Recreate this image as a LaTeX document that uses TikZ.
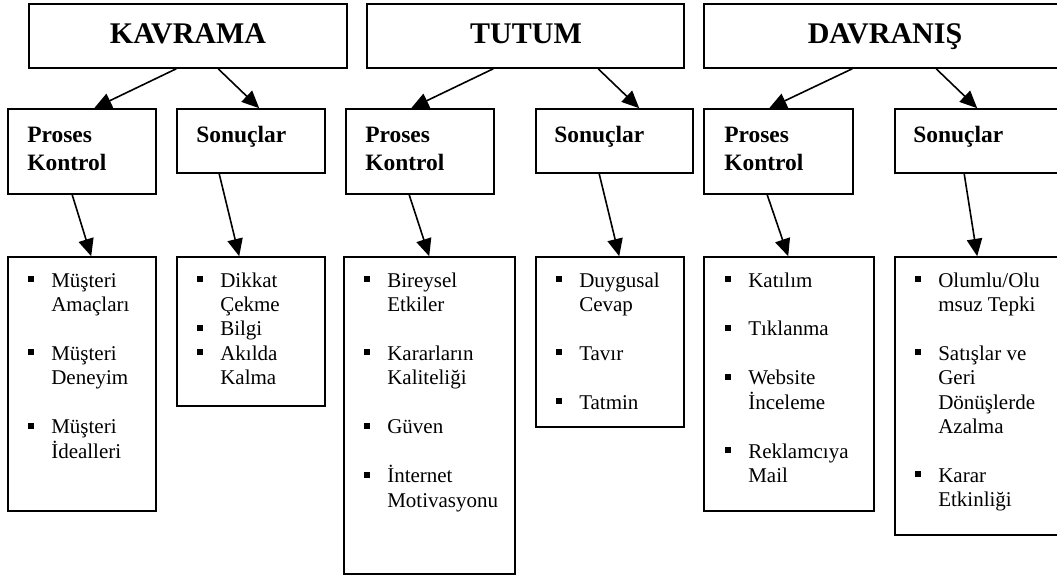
\documentclass[tikz,border=0pt]{standalone}
\usepackage{fontspec}
\setmainfont{Liberation Serif}
\usetikzlibrary{arrows.meta,calc,fit}
% square bullet followed by the indent of the item text
\newcommand\sqb{\makebox[17.25pt][l]{\rule[3.75pt]{4.5pt}{4.5pt}}}
\newcommand\itm[1]{\sqb & #1}
\newcommand\cnt[1]{& #1}
\newcommand\itemgap{18.4pt}
\begin{document}
\begin{tikzpicture}[x=0.75pt,y=-0.75pt,
  box/.style={draw,line width=1.2pt,inner sep=0pt},
  titletext/.style={inner sep=0pt,anchor=base,font=\bfseries\fontsize{22.5}{26}\selectfont},
  headtext/.style={inner sep=0pt,anchor=base west,font=\bfseries\fontsize{17.6}{21}\selectfont},
  listtext/.style={inner sep=0pt,anchor=base west,font=\fontsize{15.75}{18.3}\selectfont},
  link/.style={line width=1.2pt,-{Triangle[length=13pt,width=11.5pt]}}]
\useasboundingbox (0,0) rectangle (1057,576);
\fill[white] (0,0) rectangle (1057,576);
\clip (0,0) rectangle (1057,576);

% top level
\node[box,fit={(29,4) (347,68)}] (kav) {};
\node[box,fit={(367,4) (684,68)}] (tut) {};
\node[box,fit={(704,4) (1066,68)}] (dav) {};
\node[titletext] (kavT) at (188,43) {KAVRAMA};
\node[titletext] (tutT) at (526,43) {TUTUM};
\node[titletext] (davT) at (885,43) {DAVRANIŞ};

% second level
\node[box,fit={(8,109) (156,194)}] (pk) {};
\node[box,fit={(177,109) (325,173)}] (sk) {};
\node[box,fit={(346,109) (494,194)}] (pt) {};
\node[box,fit={(536,109) (693,173)}] (st) {};
\node[box,fit={(704,109) (853,194)}] (pd) {};
\node[box,fit={(895,109) (1070,173)}] (sd) {};
\node[headtext] (pkT) at (27,142) {\begin{tabular}[t]{@{}l@{}}Proses\\Kontrol\end{tabular}};
\node[headtext] (skT) at (196,142) {Sonuçlar};
\node[headtext] (ptT) at (365,142) {\begin{tabular}[t]{@{}l@{}}Proses\\Kontrol\end{tabular}};
\node[headtext] (stT) at (554,142) {Sonuçlar};
\node[headtext] (pdT) at (724,142) {\begin{tabular}[t]{@{}l@{}}Proses\\Kontrol\end{tabular}};
\node[headtext] (sdT) at (913,142) {Sonuçlar};

% third level
\node[box,fit={(8,257) (156,511)}] (k1) {};
\node[box,fit={(177,257) (325,406)}] (k2) {};
\node[box,fit={(344,257) (515,574)}] (t1) {};
\node[box,fit={(536,257) (684,427)}] (t2) {};
\node[box,fit={(704,257) (874,511)}] (d1) {};
\node[box,fit={(895,257) (1070,535)}] (d2) {};

\node[listtext] (k1T) at (28,287) {\begin{tabular}[t]{@{}l@{}l@{}}
\itm{Müşteri}\\ \cnt{Amaçları}\\[\itemgap]
\itm{Müşteri}\\ \cnt{Deneyim}\\[\itemgap]
\itm{Müşteri}\\ \cnt{İdealleri}
\end{tabular}};
\node[listtext] (k2T) at (197,287) {\begin{tabular}[t]{@{}l@{}l@{}}
\itm{Dikkat}\\ \cnt{Çekme}\\
\itm{Bilgi}\\
\itm{Akılda}\\ \cnt{Kalma}
\end{tabular}};
\node[listtext] (t1T) at (364,287) {\begin{tabular}[t]{@{}l@{}l@{}}
\itm{Bireysel}\\ \cnt{Etkiler}\\[\itemgap]
\itm{Kararların}\\ \cnt{Kaliteliği}\\[\itemgap]
\itm{Güven}\\[\itemgap]
\itm{İnternet}\\ \cnt{Motivasyonu}
\end{tabular}};
\node[listtext] (t2T) at (556,287) {\begin{tabular}[t]{@{}l@{}l@{}}
\itm{Duygusal}\\ \cnt{Cevap}\\[\itemgap]
\itm{Tavır}\\[\itemgap]
\itm{Tatmin}
\end{tabular}};
\node[listtext] (d1T) at (725,287) {\begin{tabular}[t]{@{}l@{}l@{}}
\itm{Katılım}\\[\itemgap]
\itm{Tıklanma}\\[\itemgap]
\itm{Website}\\ \cnt{İnceleme}\\[\itemgap]
\itm{Reklamcıya}\\ \cnt{Mail}
\end{tabular}};
\node[listtext] (d2T) at (915,287) {\begin{tabular}[t]{@{}l@{}l@{}}
\itm{Olumlu/Olu}\\ \cnt{msuz Tepki}\\[\itemgap]
\itm{Satışlar ve}\\ \cnt{Geri}\\ \cnt{Dönüşlerde}\\ \cnt{Azalma}\\[\itemgap]
\itm{Karar}\\ \cnt{Etkinliği}
\end{tabular}};

% connectors: top level to second level
\draw[link] ($(kav.south west)+(148,0)$) -- ($(pk.north west)+(87,0)$);
\draw[link] ($(kav.south west)+(190,0)$) -- ($(sk.north west)+(83,0)$);
\draw[link] ($(tut.south west)+(127,0)$) -- ($(pt.north west)+(66,0)$);
\draw[link] ($(tut.south west)+(232,0)$) -- ($(st.north west)+(104,0)$);
\draw[link] ($(dav.south west)+(149,0)$) -- ($(pd.north west)+(66,0)$);
\draw[link] ($(dav.south west)+(233,0)$) -- ($(sd.north west)+(83,0)$);

% connectors: second level to item lists
\draw[link] ($(pk.south west)+(65,0)$) -- ($(k1.north west)+(84,0)$);
\draw[link] ($(sk.south west)+(43,0)$) -- ($(k2.north west)+(63,0)$);
\draw[link] ($(pt.south west)+(64,0)$) -- ($(t1.north west)+(86,0)$);
\draw[link] ($(st.south west)+(64,0)$) -- ($(t2.north west)+(84,0)$);
\draw[link] ($(pd.south west)+(64,0)$) -- ($(d1.north west)+(85,0)$);
\draw[link] ($(sd.south west)+(70,0)$) -- ($(d2.north west)+(83,0)$);
\end{tikzpicture}
\end{document}
